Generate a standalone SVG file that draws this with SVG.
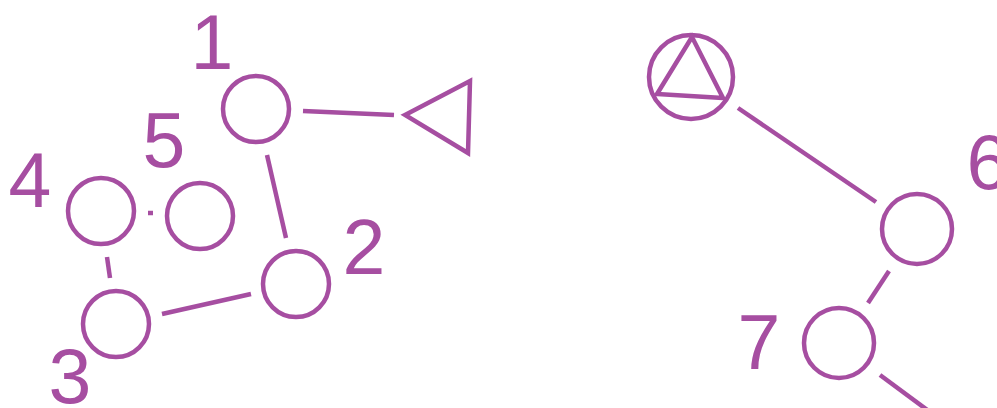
<svg xmlns="http://www.w3.org/2000/svg" width="997" height="408" viewBox="0 0 997 408">
<style>
.n{fill:none;stroke:#a64ea1;stroke-width:4.5}
.e{stroke:#a64ea1;stroke-width:4.5;fill:none}
.t{fill:#a64ea1;font-family:"Liberation Sans",Arial,sans-serif;font-size:77px;text-anchor:middle}
</style>
<rect width="997" height="408" fill="#fff"/>
<g id="connectors">
<line class="e" x1="303" y1="111" x2="394" y2="115"/>
<line class="e" x1="267" y1="155" x2="286" y2="238"/>
<line class="e" x1="162" y1="314" x2="251" y2="294"/>
<line class="e" x1="107" y1="257" x2="110" y2="278"/>
<line class="e" x1="148" y1="213" x2="153" y2="213"/>
<line class="e" x1="738" y1="108" x2="876" y2="202"/>
<line class="e" x1="889" y1="271" x2="868" y2="303"/>
<line class="e" x1="880" y1="375" x2="930" y2="412"/>
</g>
<g id="node1"><circle class="n" cx="256" cy="109" r="33"/><text class="t" x="212" y="69">1</text></g>
<g id="node2"><circle class="n" cx="296" cy="284" r="33"/><text class="t" x="364" y="274">2</text></g>
<g id="node3"><circle class="n" cx="116" cy="324" r="33"/><text class="t" x="70" y="403">3</text></g>
<g id="node4"><circle class="n" cx="101" cy="211" r="33"/><text class="t" x="30" y="207">4</text></g>
<g id="node5"><circle class="n" cx="200" cy="216" r="33"/><text class="t" x="164" y="167">5</text></g>
<g id="triangle"><polygon class="n" points="405,115 470,81 468,153"/></g>
<g id="circtri"><circle class="n" cx="691" cy="77" r="42"/><polygon class="n" points="692,37 657,94 723,98"/></g>
<g id="node6"><circle class="n" cx="917" cy="229" r="35"/><text class="t" x="988" y="189">6</text></g>
<g id="node7"><circle class="n" cx="839" cy="343" r="35"/><text class="t" x="759" y="369">7</text></g>
</svg>
